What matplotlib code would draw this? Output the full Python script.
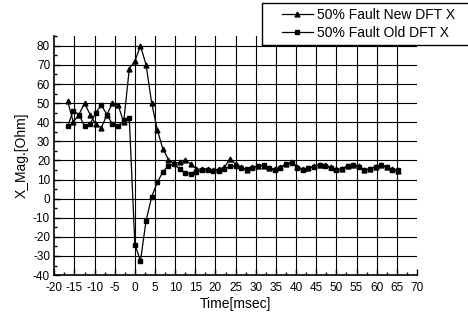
import matplotlib
matplotlib.use("Agg")
import matplotlib.pyplot as plt
from matplotlib.patches import Rectangle
from matplotlib.ticker import MultipleLocator

plt.rcParams.update({"font.family": ["Liberation Sans", "DejaVu Sans"], "font.size": 8,
                     "axes.unicode_minus": False})

# sample times, ms (12 samples per 60 Hz cycle)
time_ms = [-16.67, -15.28, -13.89, -12.50, -11.11, -9.72, -8.33, -6.94, -5.56, -4.17,
           -2.78, -1.39, 0.00, 1.39, 2.78, 4.17, 5.56, 6.94, 8.33, 9.72,
           11.11, 12.50, 13.89, 15.28, 16.67, 18.06, 19.44, 20.83, 22.22, 23.61,
           25.00, 26.39, 27.78, 29.17, 30.56, 31.94, 33.33, 34.72, 36.11, 37.50,
           38.89, 40.28, 41.67, 43.06, 44.44, 45.83, 47.22, 48.61, 50.00, 51.39,
           52.78, 54.17, 55.56, 56.94, 58.33, 59.72, 61.11, 62.50, 63.89, 65.28]

new_dft = [51, 40, 44, 50, 44, 39, 37, 44, 50, 49,
           40, 68, 72, 80, 70, 50, 36, 26, 20.5, 18.5,
           19, 20.5, 18, 15.5, 15.5, 15.5, 15, 15.5, 16.5, 21,
           18, 16.5, 15, 16.4, 17.3, 17.3, 15.9, 15.4, 16.5, 18.3,
           19, 16.7, 15.5, 15.8, 17, 17.6, 17.5, 16.5, 15.3, 15.3,
           17, 17.8, 17, 15, 15.3, 16.5, 17.6, 16.7, 15.5, 14.7]

old_dft = [38, 46, 44, 38, 39, 45, 49, 44, 39, 38,
           41, 42, -24, -32.5, -11.5, 1, 8.5, 14, 17.3, 18,
           15.5, 13.5, 13, 14, 15, 15, 14.5, 14.5, 15.5, 17,
           17, 16, 15.3, 16, 17, 17.5, 16.2, 15, 16.2, 18,
           18.6, 16.3, 15.2, 16, 16.8, 17.8, 17.2, 16.2, 15, 15.6,
           17.2, 17.5, 16.6, 15.2, 15.6, 16.8, 17.4, 16.4, 15.2, 14.8]

x_ticks = list(range(-20, 75, 5))
y_ticks = list(range(-40, 90, 10))

fig = plt.figure(figsize=(4.68, 3.21), dpi=100)
ax = fig.add_axes([0.116, 0.143, 0.775, 0.744])

# grid drawn by hand so there is no line at the right end
for x in x_ticks[1:-1]:
    ax.axvline(x, color="black", lw=0.8, zorder=1)
for y in y_ticks[1:]:
    ax.axhline(y, color="black", lw=0.8, zorder=1)

ax.plot(time_ms, new_dft, color="black", lw=0.9, marker="^", ms=3.5,
        label="50% Fault New DFT X", zorder=3)
ax.plot(time_ms, old_dft, color="black", lw=0.9, marker="s", ms=2.8,
        label="50% Fault Old DFT X", zorder=3)

ax.set_xlim(-20, 70)
ax.set_ylim(-40, 85)
ax.set_xticks(x_ticks)
ax.set_yticks(y_ticks)
ax.xaxis.set_minor_locator(MultipleLocator(2.5))
ax.yaxis.set_minor_locator(MultipleLocator(5))
ax.tick_params(which="both", direction="in", width=1)
ax.tick_params(which="major", length=4)
ax.tick_params(which="minor", length=2)
ax.tick_params(axis="x", pad=5)
ax.tick_params(axis="y", pad=3)
for lab in ax.get_xticklabels() + ax.get_yticklabels():
    lab.set_family(["Liberation Sans Narrow", "Liberation Sans"])
    lab.set_fontsize(8.5)
for s in ["top", "right"]:
    ax.spines[s].set_visible(False)
for s in ["left", "bottom"]:
    ax.spines[s].set_linewidth(1.2)

ax.set_xlabel("Time[msec]", fontsize=10, labelpad=2)
ax.set_ylabel("X_Mag.[Ohm]", fontsize=10, labelpad=3)

# legend box runs past the right edge
fig.patches.append(Rectangle((0.56, 0.86), 0.5, 0.13, transform=fig.transFigure,
                             fill=True, facecolor="white", edgecolor="black", lw=1, zorder=5))
leg = fig.legend(loc="upper left", bbox_to_anchor=(0.585, 1.0), frameon=False,
                 fontsize=10, handlelength=2.2, handletextpad=0.3, labelspacing=0.25,
                 borderaxespad=0.2)
leg.set_zorder(6)

fig.savefig("out.png", dpi=100)
